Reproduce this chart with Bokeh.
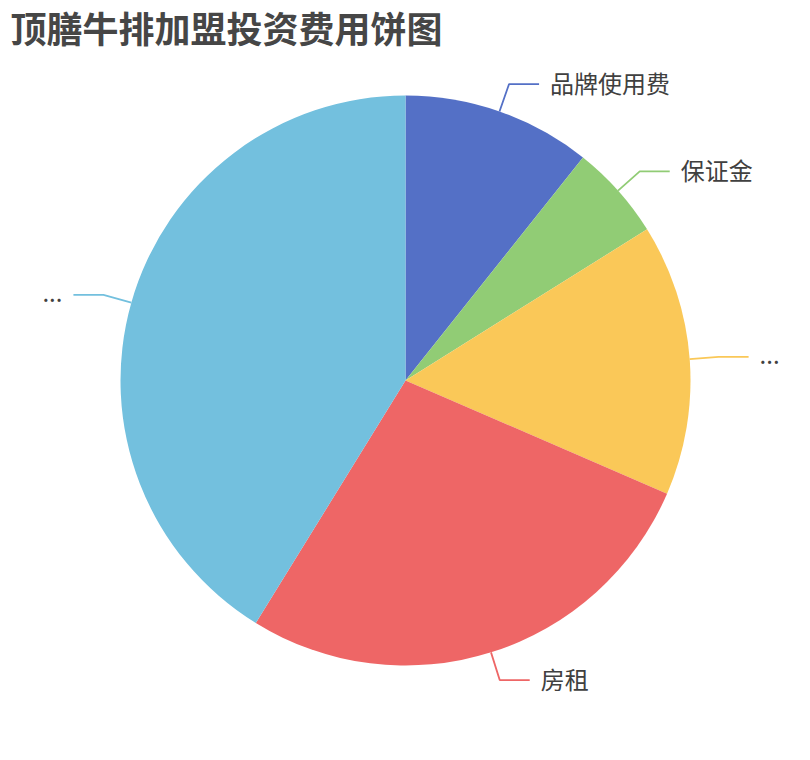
import numpy as np
from bokeh.plotting import figure
from bokeh.models import Range1d, ColumnDataSource
from bokeh.core.properties import value
from bokeh.embed import file_html
from bokeh.resources import INLINE

title_text = "顶膳牛排加盟投资费用饼图"
names = ["品牌使用费", "保证金", "...", "房租", "..."]
values = [10.7, 5.4, 15.4, 27.3, 41.2]
colors = ["#5470c6", "#91cc75", "#fac858", "#ee6666", "#73c0de"]

W, H = 794, 744
CX, CY = 405, 380   # pie centre in picture pixels
R = 285
LEN1, LEN2, GAP = 29, 30, 11
FONT = "Noto Sans CJK SC"

p = figure(width=W, height=H,
           x_range=Range1d(-CX, W - CX),
           y_range=Range1d(CY - H, CY),
           output_backend="svg", toolbar_location=None, min_border=0)
p.axis.visible = False
p.grid.visible = False
p.outline_line_color = None
p.background_fill_color = "white"
p.border_fill_color = "white"

vals = np.array(values, dtype=float)
frac = vals / vals.sum()
cum = np.cumsum(frac)
start = cum - frac
a_start = np.pi / 2 - 2 * np.pi * start
a_end = np.pi / 2 - 2 * np.pi * cum

src = ColumnDataSource(dict(start=a_end, end=a_start, color=colors, name=names))
p.wedge(x=0, y=0, radius=R, start_angle="start", end_angle="end",
        direction="anticlock", fill_color="color", line_color=None, source=src)

mid = 2 * np.pi * (start + frac / 2)
sx, sy = np.sin(mid), np.cos(mid)
side = np.where(sx >= 0, 1.0, -1.0)
ex, ey = R * sx, R * sy
p1x, p1y = (R + LEN1) * sx, (R + LEN1) * sy
p2x, p2y = p1x + side * LEN2, p1y
xs = [[a, b, c] for a, b, c in zip(ex, p1x, p2x)]
ys = [[a, b, c] for a, b, c in zip(ey, p1y, p2y)]
p.multi_line(xs=xs, ys=ys, line_color=colors, line_width=1.8)

lab = ColumnDataSource(dict(x=p2x + side * GAP, y=p2y + 2, text=names,
                            align=["left" if s > 0 else "right" for s in side]))
p.text(x="x", y="y", text="text", text_align="align", text_baseline="middle",
       text_font=value(FONT), text_font_size="24px", text_color="#404040", source=lab)

p.text(x=[10 - CX], y=[CY - 26], text=[title_text], text_align="left",
       text_baseline="middle", text_font=value(FONT), text_font_size="36px",
       text_font_style="bold", text_color="#464646")

open("out.html", "w").write(file_html(p, INLINE))
